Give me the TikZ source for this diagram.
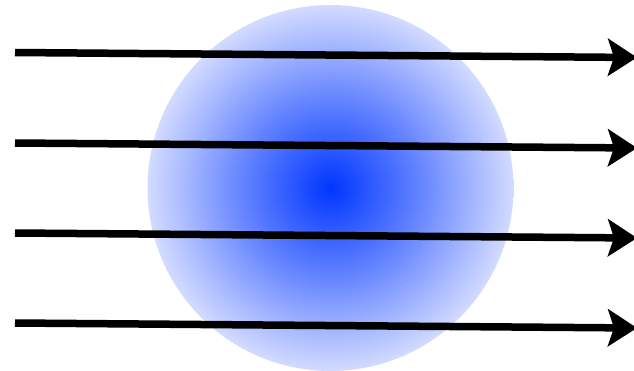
\documentclass[tikz,border=0pt]{standalone}
\usetikzlibrary{arrows.meta}
\definecolor{ballcore}{HTML}{0036FF}
\definecolor{ballmid}{HTML}{5A7CFF}
\definecolor{balledge}{HTML}{D3DBFF}
\pgfdeclareradialshading{ballglow}{\pgfpointorigin}{color(0bp)=(ballcore); color(11bp)=(ballmid); color(25bp)=(balledge); color(50bp)=(balledge)}

\begin{document}
\begin{tikzpicture}[x=1pt,y=-1pt,
  ray/.style={line width=7.5pt, -{Stealth[length=29pt,width=37pt,inset=6pt]}},
]
\useasboundingbox (0,0) rectangle (634,370);
\node[circle, minimum size=366pt, inner sep=0pt, shading=ballglow] (ball) at (330.5,188) {};
\foreach \i/\ya/\yb in {1/52.5/57.5, 2/143/148, 3/233/238, 4/323/328}{
  \coordinate (src\i) at (15,\ya);
  \coordinate (dst\i) at (637,\yb);
  \draw[ray] (src\i) -- (dst\i);
}
\end{tikzpicture}
\end{document}
